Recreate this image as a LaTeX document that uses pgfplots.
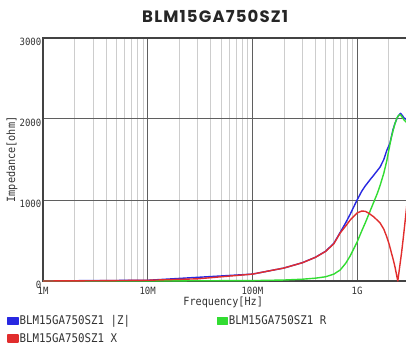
\documentclass[border=0pt]{standalone}
\usepackage{fontspec}
\usepackage{pgfplots}
\pgfplotsset{compat=1.18}
\setmainfont{DejaVu Sans}
\newfontfamily\gfont{DejaVu Sans Mono}[FakeStretch=0.9]
\newfontfamily\titlefont{Poppins}[LetterSpace=7]

\definecolor{zblue}{RGB}{40,40,225}
\definecolor{rgreen}{RGB}{50,220,50}
\definecolor{xred}{RGB}{225,45,45}
\definecolor{majgrid}{RGB}{95,95,95}
\definecolor{mingrid}{RGB}{205,205,205}
\definecolor{txt}{RGB}{50,50,50}

% |Z|
\pgfplotstableread{
f z
1e6 1
1e7 9
1e8 85
2e8 160
3e8 226
4e8 293
5e8 367
6e8 465
6.9e8 600
7.8e8 720
8.6e8 825
1e9 1000
1.11e9 1110
1.2e9 1175
1.33e9 1250
1.45e9 1310
1.66e9 1407
1.8e9 1500
1.92e9 1610
2.06e9 1700
2.2e9 1865
2.3e9 1945
2.45e9 2030
2.6e9 2070
2.7e9 2045
2.8e9 2015
3e9 1990
}\zdata

% R
\pgfplotstableread{
f r
1e6 0
1e7 1
1e8 5
2e8 12
3e8 22
4e8 35
5e8 52
6e8 85
6.9e8 136
7.8e8 220
8.6e8 310
1e9 480
1.11e9 620
1.2e9 720
1.3e9 830
1.45e9 980
1.56e9 1080
1.66e9 1180
1.8e9 1330
1.92e9 1480
2.0e9 1600
2.1e9 1740
2.2e9 1850
2.3e9 1940
2.4e9 2010
2.5e9 2045
2.58e9 2055
2.66e9 2035
2.8e9 1990
3e9 1950
}\rdata

% X
\pgfplotstableread{
f x
1e6 0
3e6 3
1e7 9
3e7 27
1e8 85
2e8 160
3e8 225
4e8 292
5e8 365
6e8 460
6.9e8 593
7.8e8 680
8.6e8 753
1e9 840
1.11e9 864
1.2e9 860
1.3e9 835
1.45e9 790
1.66e9 716
1.8e9 640
1.92e9 547
2.03e9 450
2.13e9 346
2.22e9 260
2.3e9 177
2.38e9 80
2.45e9 0
2.55e9 170
2.66e9 346
2.78e9 560
2.9e9 780
3e9 960
}\xdata

\begin{document}
\begin{tikzpicture}
\path[use as bounding box] (-43pt,-64pt) rectangle (363pt,281pt);
\begin{axis}[
    at={(0,0)}, anchor=south west,
    scale only axis, width=364pt, height=243pt,
    xmode=log, xmin=1e6, xmax=3e9,
    ymin=0, ymax=3000,
    xtick={1e6,1e7,1e8,1e9},
    xticklabels={1M,10M,100M,1G},
    minor xtick={2e6,3e6,4e6,5e6,6e6,7e6,8e6,9e6,2e7,3e7,4e7,5e7,6e7,7e7,8e7,9e7,2e8,3e8,4e8,5e8,6e8,7e8,8e8,9e8,2e9,3e9},
    ytick={0,1000,2000,3000},
    /pgf/number format/1000 sep={},
    /pgf/number format/assume math mode=true,
    grid=both,
    major grid style={draw=majgrid, line width=1pt},
    minor grid style={draw=mingrid, line width=0.7pt},
    axis line style={draw=majgrid!70!black, line width=1.3pt},
    major tick length=0pt, minor tick length=0pt,
    tick label style={font=\fontsize{10}{12}\selectfont\gfont, text=txt},
    xticklabel style={anchor=center, yshift=-10pt},
    yticklabel style={anchor=east, inner sep=0pt, xshift=-1.5pt, yshift=-4pt},
    xlabel={Frequency[Hz]},
    ylabel={Impedance[ohm]},
    label style={font=\fontsize{11.3}{13}\selectfont\gfont, text=txt},
    xlabel style={at={(axis description cs:0.495,-0.086)}, anchor=center},
    ylabel style={at={(axis description cs:-0.085,0.5)}, anchor=center},
    title={BLM15GA750SZ1},
    title style={font=\fontsize{16.5}{20}\selectfont\titlefont\bfseries, text=black!85,
        at={(axis description cs:0.473,1)}, anchor=center, yshift=16pt},
    legend columns=2,
    legend cell align=left,
    legend style={at={(axis description cs:-0.099,-0.137)}, anchor=north west,
        draw=none, fill=none, inner sep=0pt, row sep=5pt,
        font=\fontsize{12}{13}\selectfont\gfont, text=txt,
        nodes={inner sep=1pt}},
    legend image code/.code={\fill[#1] (0pt,-3.5pt) rectangle (10pt,3.5pt);},
    every axis plot/.append style={line width=1.4pt, line join=round},
]
\addplot[zblue] table[x=f, y=z] {\zdata};
\addlegendentry{\makebox[196pt][l]{BLM15GA750SZ1 |Z|}}
\addplot[rgreen] table[x=f, y=r] {\rdata};
\addlegendentry{BLM15GA750SZ1 R}
\addplot[xred] table[x=f, y=x] {\xdata};
\addlegendentry{\makebox[196pt][l]{BLM15GA750SZ1 X}}
\end{axis}
\end{tikzpicture}
\end{document}
